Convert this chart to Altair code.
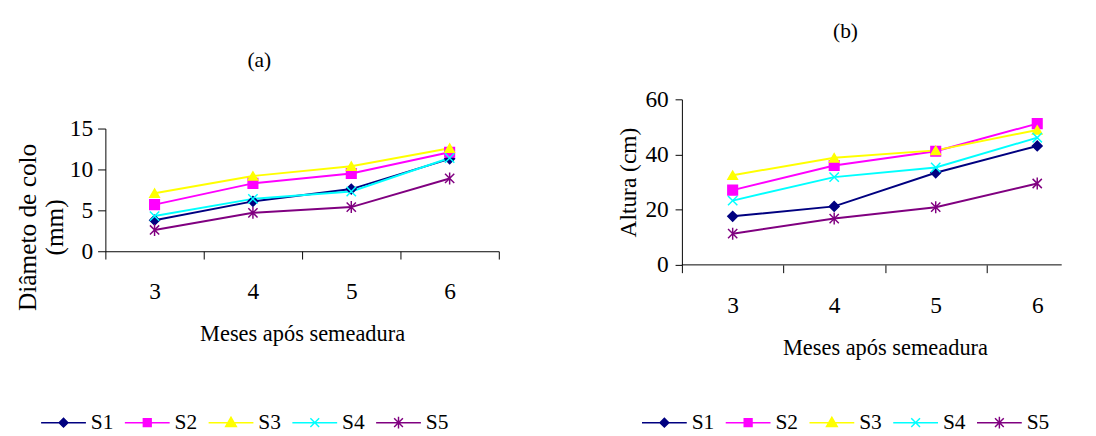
import altair as alt
import pandas as pd

# ---- data ----
months = ["3", "4", "5", "6"]
series = ["S1", "S2", "S3", "S4", "S5"]

diam_s1 = [3.8, 6.1, 7.6, 11.3]
diam_s2 = [5.7, 8.3, 9.5, 12.1]
diam_s3 = [7.1, 9.2, 10.4, 12.6]
diam_s4 = [4.3, 6.4, 7.3, 11.4]
diam_s5 = [2.6, 4.7, 5.4, 8.9]

alt_s1 = [17.6, 21.2, 33.4, 43.1]
alt_s2 = [27.1, 36.0, 41.2, 51.2]
alt_s3 = [32.5, 38.8, 41.5, 48.9]
alt_s4 = [23.3, 31.8, 35.3, 46.1]
alt_s5 = [11.3, 16.8, 20.9, 29.5]

diam_ticks = [0, 5, 10, 15]
alt_ticks = [0, 20, 40, 60]

# ---- styles ----
colors = ["#000080", "#FF00FF", "#FFFF00", "#00FFFF", "#800080"]
point_shapes = ["diamond", "square", "triangle-up",
                "M-1,-1L1,1M-1,1L1,-1",
                "M-1,-1L1,1M-1,1L1,-1M0,-1.3L0,1.3"]
point_sizes = [100, 90, 160, 110, 120]
legend_shapes = [
    "M-4.6,0H4.6M0,-0.9L0.9,0L0,0.9L-0.9,0Z",
    "M-4.6,0H4.6M-0.8,-0.8H0.8V0.8H-0.8Z",
    "M-4.6,0H4.6M0,-1.1L1.1,0.8H-1.1Z",
    "M-4.6,0H4.6M-0.9,-0.9L0.9,0.9M-0.9,0.9L0.9,-0.9",
    "M-4.6,0H4.6M-0.9,-0.9L0.9,0.9M-0.9,0.9L0.9,-0.9M0,-1.2V1.2",
]
FONT = "Liberation Serif"


def frame(values):
    rows = []
    for s, vals in zip(series, values):
        for m, v in zip(months, vals):
            rows.append({"mes": m, "serie": s, "valor": v})
    return pd.DataFrame(rows)


def panel(df, c):
    step = c["xr"] / len(months)
    axis_kw = dict(title="Meses após semeadura", labelAngle=0,
                   labelFont=FONT, labelFontSize=24, labelColor="black",
                   labelPadding=34, labelBaseline="middle",
                   tickSize=8, tickColor="black", domainColor="black",
                   titleFont=FONT, titleFontSize=23, titleFontWeight="normal",
                   titleColor="black", titleY=85, titleBaseline="middle", grid=False)
    if c["xr"] > c["w"]:
        # band scale wider than the view: the x baseline is drawn by a rule at y = 0
        axis_kw.update(domain=False, tickOffset=-step / 2, labelOffset=step / 2)
    else:
        axis_kw.update(tickBand="extent")
    x = alt.X("mes:O", sort=months, bandPosition=0.5,
              scale=alt.Scale(type="band", paddingInner=0, paddingOuter=0, range=[0, c["xr"]]),
              axis=alt.Axis(**axis_kw))
    y = alt.Y("valor:Q",
              scale=alt.Scale(domain=c["domain"], range=c["range"], nice=False),
              axis=alt.Axis(values=c["ticks"], title=c["ytitle"], titleX=c["tx"], titleY=c["ty"],
                            titleAngle=270, titleBaseline="alphabetic", titleAlign="center",
                            titleLineHeight=28, titleFont=FONT, titleFontSize=c["tfs"],
                            titleFontWeight="normal", titleColor="black",
                            labelFont=FONT, labelFontSize=24, labelColor="black",
                            tickSize=c["ts"], labelPadding=c["lp"], tickColor="black",
                            domainColor="black", grid=False))
    color = alt.Color("serie:N", scale=alt.Scale(domain=series, range=colors), legend=None)
    lines = alt.Chart(df).mark_line(strokeWidth=2).encode(x=x, y=y, color=color)
    pts = alt.Chart(df).mark_point(filled=True, opacity=1, strokeWidth=1.5).encode(
        x=x, y=y, color=color,
        stroke=alt.Stroke("serie:N", scale=alt.Scale(domain=series, range=colors), legend=None),
        shape=alt.Shape("serie:N", scale=alt.Scale(domain=series, range=point_shapes), legend=None),
        size=alt.Size("serie:N", scale=alt.Scale(domain=series, range=point_sizes), legend=None))
    leg = alt.Legend(orient="none", legendX=c["lx"], legendY=c["ly"], direction="horizontal",
                     columns=5, title=None, labelFont=FONT, labelFontSize=22, labelColor="black",
                     labelOffset=17, symbolSize=100, symbolStrokeWidth=1.5, columnPadding=8,
                     padding=0)
    legend_layer = alt.Chart(df).transform_filter("false").mark_point(
        filled=True, opacity=1, strokeWidth=1.5).encode(
        color=alt.Color("serie:N", scale=alt.Scale(domain=series, range=colors), legend=leg),
        stroke=alt.Stroke("serie:N", scale=alt.Scale(domain=series, range=colors), legend=leg),
        shape=alt.Shape("serie:N", scale=alt.Scale(domain=series, range=legend_shapes), legend=leg))
    layers = [lines, pts, legend_layer]
    if c["xr"] > c["w"]:
        base = alt.Chart(alt.Data(values=[{}])).mark_rule(color="black", strokeWidth=1).encode(
            y=alt.datum(0))
        layers.insert(0, base)
    return alt.layer(*layers).resolve_scale(
        color="independent", stroke="independent", shape="independent",
        size="independent").properties(
        width=c["w"], height=c["h"],
        title=alt.TitleParams(c["title"], font=FONT, fontSize=22, fontWeight="normal",
                              color="black", anchor="middle", dx=c["dx"], frame="group",
                              baseline="middle", offset=c["toff"]))


cfg_a = dict(domain=[0, 15], range=[156, 30], ticks=diam_ticks, h=156, w=404, xr=404,
             ytitle=["Diâmeto de colo", "(mm)"], tx=-72, ty=131, tfs=26, ts=8, lp=5,
             lx=-54, ly=321, title="(a)", dx=-44, toff=18)
cfg_b = dict(domain=[0, 60], range=[170, 0], ticks=alt_ticks, h=170, w=390, xr=417,
             ytitle="Altura (cm)", tx=-48, ty=85, tfs=24, ts=7, lp=7,
             lx=-29, ly=321, title="(b)", dx=-27, toff=36)

chart_a = panel(frame([diam_s1, diam_s2, diam_s3, diam_s4, diam_s5]), cfg_a)
chart_b = panel(frame([alt_s1, alt_s2, alt_s3, alt_s4, alt_s5]), cfg_b)

chart = alt.hconcat(chart_a, chart_b, spacing=120).resolve_scale(
    color="independent", stroke="independent", shape="independent", size="independent").properties(
    padding={"left": 7, "top": 7, "right": 0, "bottom": 0}).configure_view(stroke=None)

chart.save("out.html", embed_options={"renderer": "svg", "actions": False})
